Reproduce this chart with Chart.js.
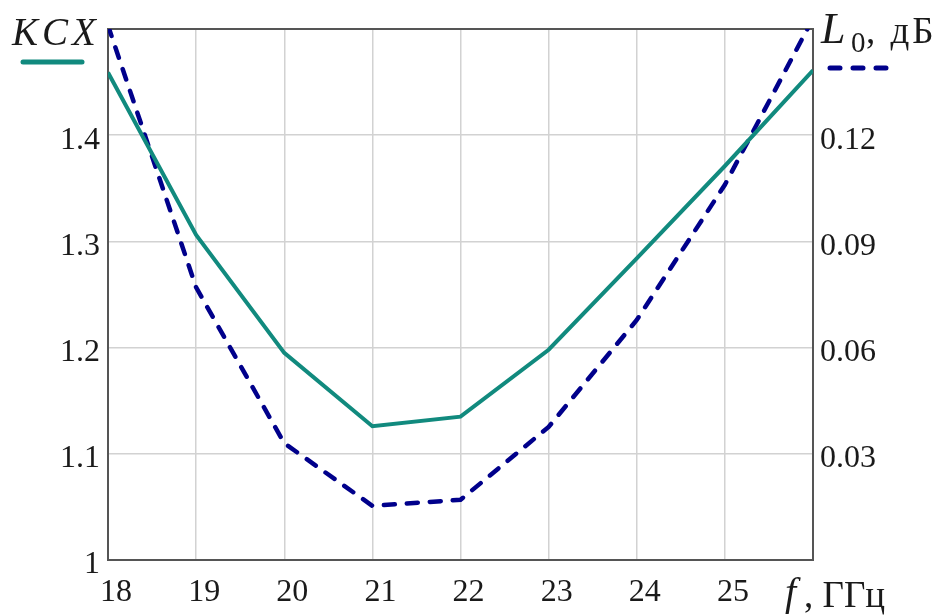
<!DOCTYPE html>
<html>
<head>
<meta charset="utf-8">
<script src="https://cdn.jsdelivr.net/npm/chart.js@4"></script>
<style>
  html, body { margin: 0; padding: 0; background: #fff; }
  #wrap { width: 947px; height: 616px; }
</style>
</head>
<body>
<div id="wrap"><canvas id="ksvChart" width="947" height="616"></canvas></div>
<script>
// частота, ГГц
const freq = [18, 19, 20, 21, 22, 23, 24, 25, 26];
// КСВ (левая ось)
const kcx = [1.459, 1.306, 1.195, 1.126, 1.135, 1.198, 1.284, 1.371, 1.461];
// потери L0, дБ (правая ось)
const loss = [0.151, 0.077, 0.033, 0.0153, 0.017, 0.0376, 0.0678, 0.106, 0.153];

const leftTicks = [1, 1.1, 1.2, 1.3, 1.4];
const rightTicks = [0.03, 0.06, 0.09, 0.12];

const TEAL = "#118a7e";
const NAVY = "#00008b";
const FONT = "'Liberation Serif', 'Times New Roman', serif";

function toPoints(xs, ys) {
    return xs.map(function (x, i) {
        return { x: x, y: ys[i] };
    });
}

function inList(v, list) {
    return list.some(function (t) { return Math.abs(t - v) < 1e-6; });
}

// рамка графика и подписи осей/легенды
const decorPlugin = {
    id: "decor",
    beforeDatasetsDraw: function (chart) {
        const a = chart.chartArea;
        const ctx = chart.ctx;
        ctx.save();
        ctx.strokeStyle = "#555";
        ctx.lineWidth = 2;
        ctx.strokeRect(a.left, a.top, a.right - a.left, a.bottom - a.top);
        ctx.restore();
    },
    afterDraw: function (chart) {
        const ctx = chart.ctx;
        ctx.save();
        ctx.fillStyle = "#1a1a1a";
        ctx.textBaseline = "alphabetic";

        // КСХ
        ctx.font = "italic 39px " + FONT;
        ctx.letterSpacing = "4px";
        ctx.fillText("KCX", 12, 45);
        ctx.letterSpacing = "0px";

        ctx.strokeStyle = TEAL;
        ctx.lineWidth = 5;
        ctx.lineCap = "round";
        ctx.beginPath();
        ctx.moveTo(23, 62);
        ctx.lineTo(82, 62);
        ctx.stroke();

        // L0, дБ
        ctx.font = "italic 44px " + FONT;
        ctx.fillText("L", 821, 43);
        ctx.font = "29px " + FONT;
        ctx.fillText("0", 851, 52);
        ctx.font = "37px " + FONT;
        ctx.letterSpacing = "3px";
        ctx.fillText(", дБ", 866, 43);
        ctx.letterSpacing = "0px";

        ctx.strokeStyle = NAVY;
        ctx.lineWidth = 5;
        ctx.setLineDash([10, 13]);
        ctx.beginPath();
        ctx.moveTo(830, 68);
        ctx.lineTo(886, 68);
        ctx.stroke();
        ctx.setLineDash([]);

        // f, ГГц
        ctx.font = "italic 40px " + FONT;
        ctx.fillText("f", 785, 605);
        ctx.font = "37px " + FONT;
        ctx.fillText(", ГГц", 804, 607);
        ctx.restore();
    },
};

const ctx = document.getElementById("ksvChart").getContext("2d");
new Chart(ctx, {
    type: "line",
    data: {
        datasets: [
            {
                label: "KCX",
                data: toPoints(freq, kcx),
                yAxisID: "y",
                borderColor: TEAL,
                borderWidth: 4,
                pointRadius: 0,
                tension: 0,
                fill: false,
                clip: 0,
            },
            {
                label: "L0, дБ",
                data: toPoints(freq, loss),
                yAxisID: "y1",
                borderColor: NAVY,
                borderWidth: 4.5,
                borderDash: [11, 12],
                borderCapStyle: "round",
                pointRadius: 0,
                tension: 0,
                fill: false,
                clip: 0,
            },
        ],
    },
    options: {
        responsive: false,
        animation: false,
        layout: { padding: { top: 29, left: 0, right: 0, bottom: 0 } },
        plugins: {
            legend: { display: false },
            tooltip: { enabled: false },
        },
        scales: {
            x: {
                type: "linear",
                min: 18,
                max: 26,
                afterFit: function (scale) { scale.height = 56; },
                border: { display: false },
                grid: { color: "#d2d2d2", lineWidth: 1.5, drawTicks: false },
                ticks: {
                    stepSize: 1,
                    padding: 13,
                    labelOffset: 8,
                    color: "#1a1a1a",
                    font: { family: FONT, size: 32 },
                    callback: function (v) { return v >= 26 ? "" : String(v); },
                },
            },
            y: {
                position: "left",
                min: 1,
                max: 1.5,
                afterFit: function (scale) { scale.width = 108; },
                border: { display: false },
                grid: { color: "#d2d2d2", lineWidth: 1.5, drawTicks: false },
                ticks: {
                    stepSize: 0.1,
                    padding: 8,
                    labelOffset: 5,
                    color: "#1a1a1a",
                    font: { family: FONT, size: 32 },
                    callback: function (v) {
                        return inList(v, leftTicks) ? String(Math.round(v * 10) / 10) : "";
                    },
                },
            },
            y1: {
                position: "right",
                min: 0,
                max: 0.15,
                afterFit: function (scale) { scale.width = 134; },
                border: { display: false },
                grid: { drawOnChartArea: false, drawTicks: false },
                ticks: {
                    stepSize: 0.03,
                    padding: 7,
                    labelOffset: 5,
                    color: "#1a1a1a",
                    font: { family: FONT, size: 32 },
                    callback: function (v) {
                        return inList(v, rightTicks) ? v.toFixed(2) : "";
                    },
                },
            },
        },
    },
    plugins: [decorPlugin],
});
</script>
</body>
</html>
